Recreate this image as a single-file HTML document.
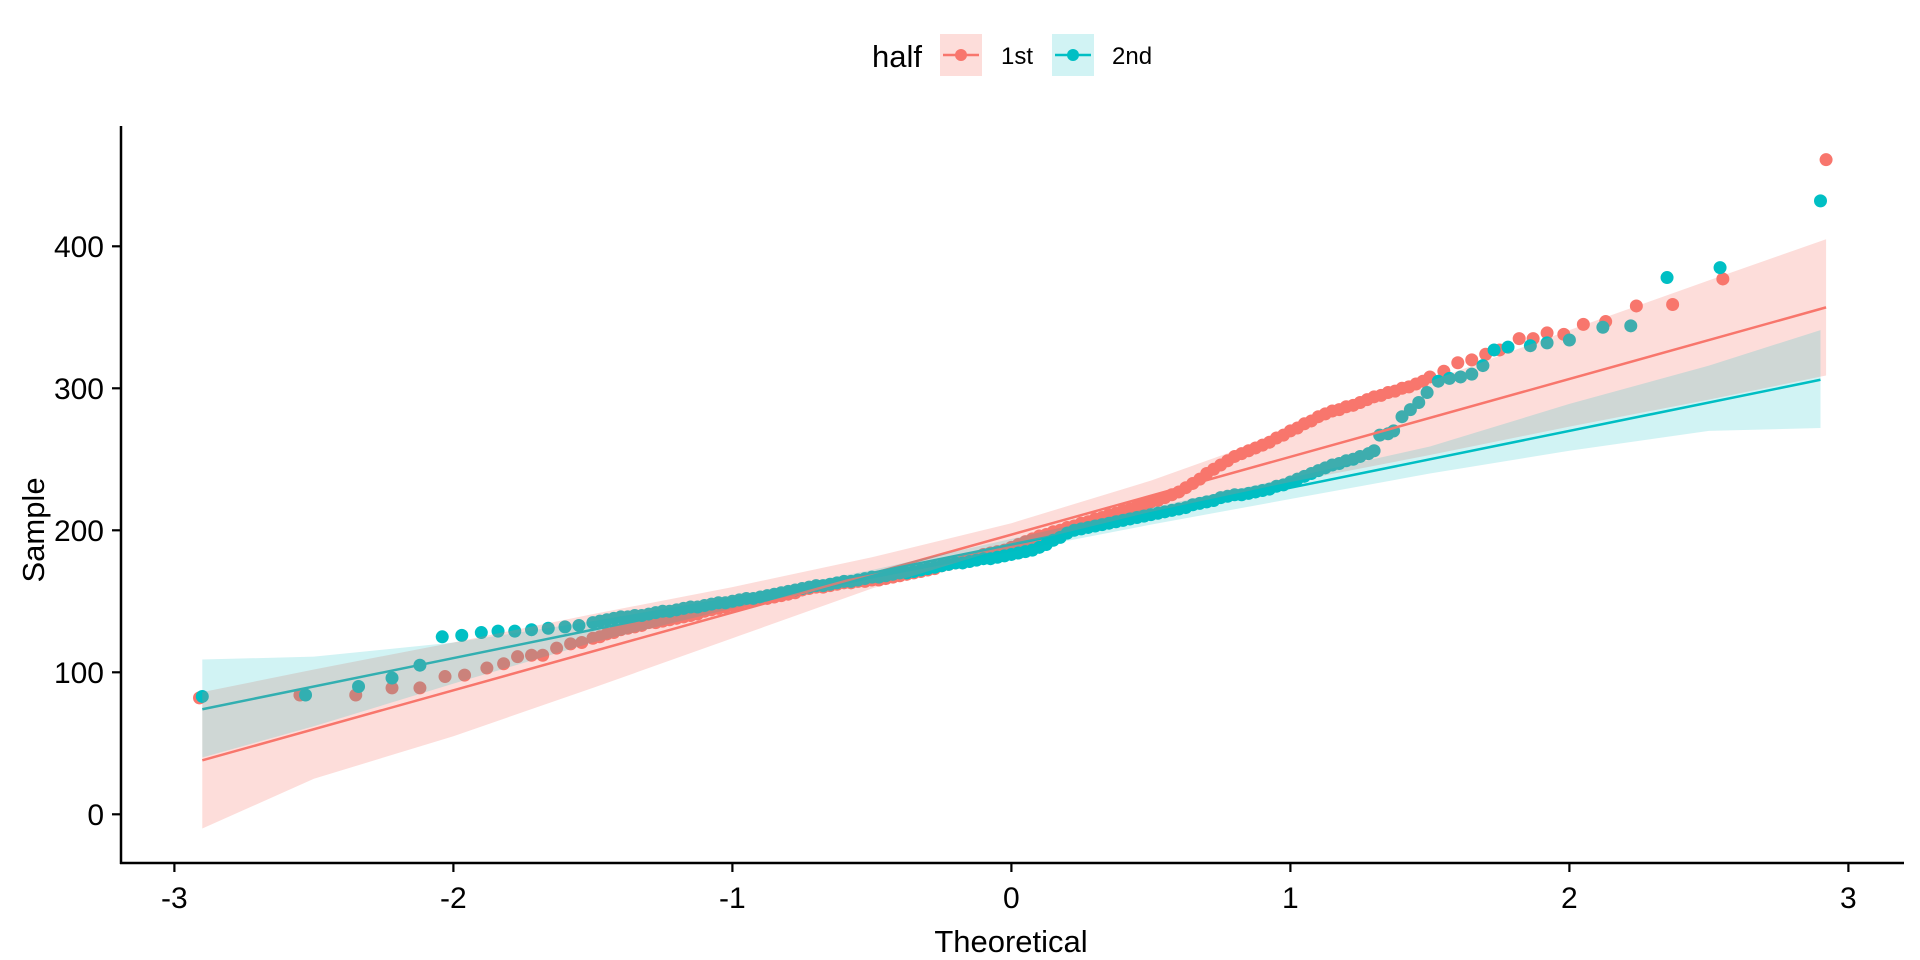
<!DOCTYPE html>
<html><head><meta charset="utf-8"><style>
html,body{margin:0;padding:0;background:#fff;}
svg{display:block;font-family:"Liberation Sans",Arial,sans-serif;}
</style></head><body>
<svg id="chart" width="1920" height="960" viewBox="0 0 1920 960" xmlns="http://www.w3.org/2000/svg">
  <g id="legend">
    <text x="872" y="67" font-size="31" fill="#000">half</text>
    <g>
      <rect x="940" y="34" width="42" height="42" fill="#F8766D" fill-opacity="0.25"/>
      <line x1="943" y1="55" x2="979" y2="55" stroke="#F8766D" stroke-width="2.5"/>
      <circle cx="961" cy="55" r="6" fill="#F8766D"/>
      <text x="1001" y="64" font-size="24" fill="#000">1st</text>
    </g>
    <g>
      <rect x="1052" y="34" width="42" height="42" fill="#00BFC4" fill-opacity="0.18"/>
      <line x1="1055" y1="55" x2="1091" y2="55" stroke="#00BFC4" stroke-width="2.5"/>
      <circle cx="1073" cy="55" r="6" fill="#00BFC4"/>
      <text x="1112" y="64" font-size="24" fill="#000">2nd</text>
    </g>
  </g>
  <g id="points"></g>
  <g id="lines"></g>
  <g id="bands"></g>
  <g id="axes"></g>
  <text x="1011" y="952" font-size="31" text-anchor="middle" fill="#000">Theoretical</text>
  <text transform="translate(44,530) rotate(-90)" font-size="31" text-anchor="middle" fill="#000">Sample</text>
</svg>
<script>
// ---- data ----
const xTicks = [-3,-2,-1,0,1,2,3];
const xTickLabels = ["-3","-2","-1","0","1","2","3"];
const yTicks = [0,100,200,300,400];
const yTickLabels = ["0","100","200","300","400"];

const firstTailLowX = [-2.91,-2.55,-2.35,-2.22,-2.12,-2.03,-1.96,-1.88,-1.82,-1.77,-1.72,-1.68,-1.63,-1.58,-1.54];
const firstTailLowY = [82,84,84,89,89,97,98,103,106,111,112,112,117,120,121];
const firstMidStart = -1.5, firstMidStep = 0.025;
const firstMidY = [124,125,127,128,130,131,132,133,135,135,136,137,138,139,140,141,143,144,145,146,147,148,150,151,152,152,153,154,155,156,158,159,160,160,161,162,163,163,164,164,165,165,166,167,168,169,170,171,172,173,175,176,177,178,180,181,183,184,185,186,188,190,192,194,196,197,199,200,202,203,205,206,208,209,211,212,214,215,217,218,220,221,223,225,227,230,233,236,240,243,246,249,252,254,256,258,260,262,265,267,270,272,275,277,280,282,284,285,287,288,290,292,294,295,297,298,300,301,303,305,308];
const firstTailHighX = [1.55,1.6,1.65,1.7,1.75,1.82,1.87,1.92,1.98,2.05,2.13,2.24,2.37,2.55,2.92];
const firstTailHighY = [312,318,320,324,327,335,335,339,338,345,347,358,359,377,461];

const secondTailLowX = [-2.9,-2.53,-2.34,-2.22,-2.12,-2.04,-1.97,-1.9,-1.84,-1.78,-1.72,-1.66,-1.6,-1.55];
const secondTailLowY = [83,84,90,96,105,125,126,128,129,129,130,131,132,133];
const secondMidStart = -1.5, secondMidStep = 0.025;
const secondMidY = [135,136,137,138,139,139,140,140,141,142,143,143,144,145,146,146,147,148,149,149,150,151,152,152,153,154,155,156,157,158,159,160,161,161,162,163,164,164,165,166,167,167,168,169,170,170,171,172,173,174,175,176,177,177,178,179,180,180,181,182,183,184,185,186,188,190,193,195,198,200,201,202,203,204,205,206,207,208,209,210,211,212,213,214,215,216,218,219,220,221,223,224,225,225,226,227,228,229,231,232,234,236,238,240,242,244,246,247,249,250,252];
const secondTailHighX = [1.28,1.3,1.32,1.35,1.37,1.4,1.43,1.46,1.49,1.53,1.57,1.61,1.65,1.69,1.73,1.78,1.86,1.92,2.0,2.12,2.22,2.35,2.54,2.9];
const secondTailHighY = [254,256,267,268,270,280,285,290,297,305,307,308,310,316,327,329,330,332,334,343,344,378,385,432];

const firstLineX = [-2.9, 2.92];
const firstLineY = [38, 357];
const secondLineX = [-2.9, 2.9];
const secondLineY = [74, 306];

const bandX1 = [-2.9,-2.5,-2,-1.5,-1,-0.5,0,0.5,1,1.5,2,2.5,2.92];
const bandLow1 = [-10,25,55,89,124,159,189,213,234,253,273,292,309];
const bandHigh1 = [86,102,121,141,160,181,205,235,270,305,341,376,405];
const bandX2 = [-2.9,-2.5,-2,-1.5,-1,-0.5,0,0.5,1,1.5,2,2.5,2.9];
const bandLow2 = [40,62,92,121,145,166,185,204,222,240,256,270,272];
const bandHigh2 = [109,111,121,136,153,172,194,216,237,259,289,316,341];

// ---- scales ----
const sx = v => 1011.4 + 279 * v;
const sy = v => 814.3 - 1.42 * v;
const NS = "http://www.w3.org/2000/svg";
function mk(tag, attrs, parent){ const e=document.createElementNS(NS,tag); for(const k in attrs) e.setAttribute(k,attrs[k]); parent.appendChild(e); return e; }

function series(lx,ly,ms,mstep,my,hx,hy){
  const xs=[...lx], ys=[...ly];
  my.forEach((v,i)=>{ xs.push(ms+i*mstep); ys.push(v); });
  hx.forEach((v,i)=>{ xs.push(v); ys.push(hy[i]); });
  return {xs,ys};
}
const s1 = series(firstTailLowX,firstTailLowY,firstMidStart,firstMidStep,firstMidY,firstTailHighX,firstTailHighY);
const s2 = series(secondTailLowX,secondTailLowY,secondMidStart,secondMidStep,secondMidY,secondTailHighX,secondTailHighY);

const gp = document.getElementById('points');
[[s1,'#F8766D','point-1st'],[s2,'#00BFC4','point-2nd']].forEach(([s,c,n])=>{
  s.xs.forEach((x,i)=>{
    const el = mk('circle',{cx:sx(x),cy:sy(s.ys[i]),r:6.5,fill:c},gp);
    
    
  });
});

const gl = document.getElementById('lines');
[[firstLineX,firstLineY,'#F8766D','qq-line-1st'],[secondLineX,secondLineY,'#00BFC4','qq-line-2nd']].forEach(([X,Y,c,n])=>{
  const el = mk('line',{x1:sx(X[0]),y1:sy(Y[0]),x2:sx(X[1]),y2:sy(Y[1]),stroke:c,'stroke-width':2.5},gl);
  
  
});

const gb = document.getElementById('bands');
[[bandX1,bandLow1,bandHigh1,'#F8766D',0.25,'band-1st'],[bandX2,bandLow2,bandHigh2,'#00BFC4',0.18,'band-2nd']].forEach(([X,L,H,c,o,n])=>{
  let pts=[];
  X.forEach((x,i)=>pts.push(sx(x)+','+sy(H[i])));
  for(let i=X.length-1;i>=0;i--) pts.push(sx(X[i])+','+sy(L[i]));
  const el = mk('polygon',{points:pts.join(' '),fill:c,'fill-opacity':o},gb);
  
  
});

const ga = document.getElementById('axes');
mk('line',{x1:121,y1:126,x2:121,y2:864,stroke:'#000','stroke-width':2.5},ga);
mk('line',{x1:120,y1:863,x2:1904,y2:863,stroke:'#000','stroke-width':2.5},ga);
xTicks.forEach((t,i)=>{
  const x=sx(t);
  const tk = mk('line',{x1:x,y1:863,x2:x,y2:872,stroke:'#000','stroke-width':2.2},ga);
  
  const tx = mk('text',{x:x,y:908,'font-size':30,'text-anchor':'middle',fill:'#000'},ga);
  tx.textContent = xTickLabels[i];
  
  
});
yTicks.forEach((t,i)=>{
  const y=sy(t);
  const tk = mk('line',{x1:112,y1:y,x2:121,y2:y,stroke:'#000','stroke-width':2.2},ga);
  
  const tx = mk('text',{x:104,y:y+10.5,'font-size':30,'text-anchor':'end',fill:'#000'},ga);
  tx.textContent = yTickLabels[i];
  
  
});
</script>
</body></html>
